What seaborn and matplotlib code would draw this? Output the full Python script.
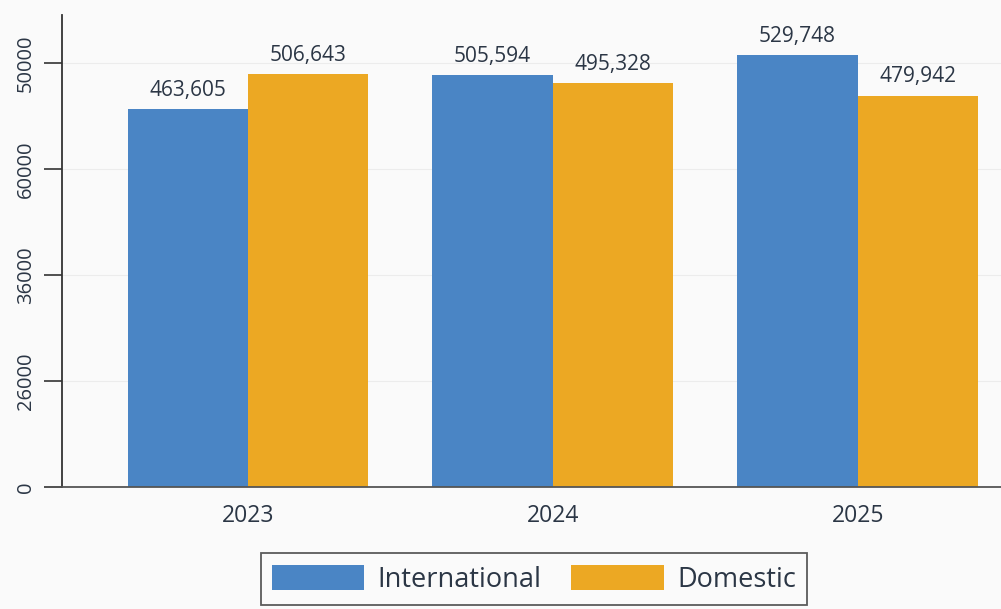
import matplotlib
matplotlib.use("Agg")
import matplotlib.pyplot as plt
import seaborn as sns
import pandas as pd

years = ["2023", "2024", "2025"]
international = [463605, 505594, 529748]
domestic = [506643, 495328, 479942]
series_names = ["International", "Domestic"]
ytick_values = [0, 130000, 260000, 390000, 520000]
ytick_labels = ["0", "26000", "36000", "60000", "50000"]

df = pd.DataFrame({
    "year": years * 2,
    "value": international + domestic,
    "series": [series_names[0]] * 3 + [series_names[1]] * 3,
})

sns.set_style("white")
plt.rcParams["font.family"] = ["Open Sans", "DejaVu Sans"]
text_color = "#2b3645"

fig = plt.figure(figsize=(10.01, 6.09), dpi=100)
fig.patch.set_facecolor("#fafafa")
ax = fig.add_axes([0.062, 0.2003, 0.938, 0.775])
ax.set_facecolor("#fafafa")

palette = {"International": "#4a85c5", "Domestic": "#eca823"}
sns.barplot(data=df, x="year", y="value", hue="series", palette=palette,
            width=0.79, saturation=1, ax=ax, legend=True, zorder=2,
            linewidth=0)

for container in ax.containers:
    ax.bar_label(container, labels=[f"{v:,.0f}" for v in container.datavalues],
                 padding=6, fontsize=15, color=text_color)

ax.set_xlim(-0.61, 2.47)
ax.set_ylim(0, 579000)
ax.set_yticks(ytick_values)
ax.set_yticklabels(ytick_labels, rotation=90, va="center", fontsize=14.5, color=text_color)
ax.tick_params(axis="y", left=True, length=13, width=1.2, color="#333333", pad=6)
ax.tick_params(axis="x", length=0, pad=12, labelsize=16.5, labelcolor=text_color)
ax.set_xlabel("")
ax.set_ylabel("")
ax.grid(axis="y", color="#ececec", linewidth=0.8, zorder=0)
for s in ["top", "right"]:
    ax.spines[s].set_visible(False)
ax.spines["left"].set_color("#333333")
ax.spines["left"].set_linewidth(1.3)
ax.spines["bottom"].set_color("#555555")
ax.spines["bottom"].set_linewidth(1.3)

handles, labels = ax.get_legend_handles_labels()
ax.legend_.remove()
leg = fig.legend(handles, labels, loc="center", bbox_to_anchor=(0.5335, 0.049), ncol=2,
                 fontsize=19.5, frameon=True, fancybox=False, edgecolor="#333333",
                 handlelength=3.4, handleheight=1.05, columnspacing=1.1,
                 handletextpad=0.5, borderpad=0.42, labelcolor=text_color)
leg.get_frame().set_linewidth(1.3)
leg.get_frame().set_facecolor("#fafafa")

fig.savefig("out.png", dpi=100, facecolor=fig.get_facecolor())
